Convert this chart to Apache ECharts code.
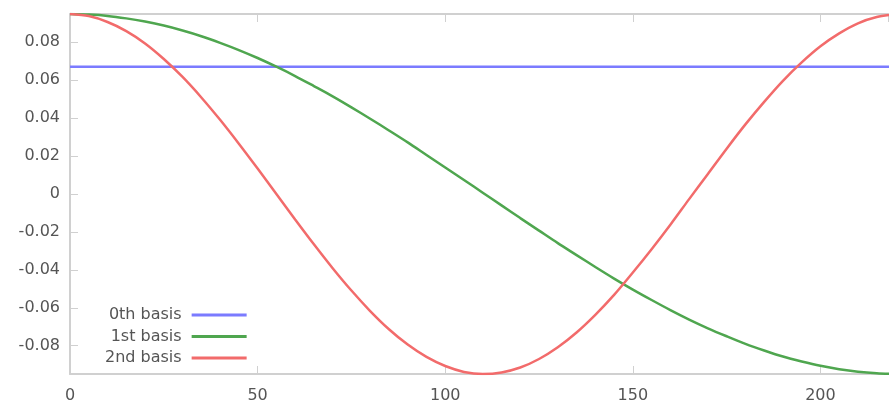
<!DOCTYPE html>
<html>
<head>
<meta charset="utf-8">
<script src="https://cdn.jsdelivr.net/npm/echarts@6/dist/echarts.min.js"></script>
<style>html,body{margin:0;padding:0;background:#fff;}#c{width:889px;height:404px;}</style>
</head>
<body>
<div id="c"></div>
<script>
const xValues = [0,5,10,15,20,25,30,35,40,45,50,55,60,65,70,75,80,85,90,95,100,105,110,115,120,125,130,135,140,145,150,155,160,165,170,175,180,185,190,195,200,205,210,215,220];
const basis0 = [0.0671,0.0671,0.0671,0.0671,0.0671,0.0671,0.0671,0.0671,0.0671,0.0671,0.0671,0.0671,0.0671,0.0671,0.0671,0.0671,0.0671,0.0671,0.0671,0.0671,0.0671,0.0671,0.0671,0.0671,0.0671,0.0671,0.0671,0.0671,0.0671,0.0671,0.0671,0.0671,0.0671,0.0671,0.0671,0.0671,0.0671,0.0671,0.0671,0.0671,0.0671,0.0671,0.0671,0.0671,0.0671];
const basis1 = [0.0949,0.0946,0.0939,0.0926,0.0909,0.0888,0.0862,0.0832,0.0797,0.0759,0.0717,0.0671,0.0622,0.0569,0.0515,0.0457,0.0397,0.0335,0.0272,0.0206,0.0140,0.0074,0.0007,-0.0060,-0.0127,-0.0193,-0.0259,-0.0322,-0.0385,-0.0446,-0.0504,-0.0559,-0.0612,-0.0662,-0.0708,-0.0750,-0.0790,-0.0825,-0.0857,-0.0883,-0.0906,-0.0924,-0.0937,-0.0945,-0.0949];
const basis2 = [0.0949,0.0938,0.0907,0.0859,0.0794,0.0712,0.0617,0.0509,0.0391,0.0265,0.0134,0.0000,-0.0134,-0.0265,-0.0391,-0.0509,-0.0617,-0.0713,-0.0794,-0.0859,-0.0907,-0.0938,-0.0949,-0.0941,-0.0915,-0.0870,-0.0808,-0.0730,-0.0637,-0.0532,-0.0414,-0.0291,-0.0162,-0.0027,0.0106,0.0239,0.0367,0.0486,0.0597,0.0694,0.0779,0.0847,0.0900,0.0933,0.0948];
const seriesNames = ['0th basis','1st basis','2nd basis'];
const xTicks = [0,50,100,150,200];

const chart = echarts.init(document.getElementById('c'), null, {renderer:'canvas'});
const pair = arr => xValues.map((x,i)=>[x, arr[i]]);
const colors = ['#7b7bff','#4fa64f','#f26b6b'];
const axisGray = '#d0d0d0';
const labelColor = '#555';
const font = 'DejaVu Sans';
chart.setOption({
  animation:false,
  backgroundColor:'#fff',
  grid:{left:70, right:1, top:14, bottom:29, containLabel:false},
  legend:{
    orient:'vertical', left:100, top:302, align:'right',
    itemWidth:55, itemHeight:3, itemGap:5.5,
    icon:'rect',
    textStyle:{color:labelColor, fontFamily:font, fontSize:16, padding:[0,5,0,0]},
    data:seriesNames
  },
  xAxis:[{
    type:'value', min:0, max:218, interval:50, position:'bottom',
    axisLine:{show:true, onZero:false, lineStyle:{color:axisGray, width:2}},
    axisTick:{show:true, inside:true, length:8, lineStyle:{color:axisGray}},
    axisLabel:{color:labelColor, fontFamily:font, fontSize:16, margin:14, showMaxLabel:false,
      formatter:v=> xTicks.indexOf(v)>=0 ? String(v) : ''},
    splitLine:{show:false}
  },{
    type:'value', min:0, max:218, interval:50, position:'top',
    axisLine:{show:true, onZero:false, lineStyle:{color:axisGray, width:2}},
    axisTick:{show:true, inside:true, length:8, lineStyle:{color:axisGray}},
    axisLabel:{show:false}, splitLine:{show:false}
  }],
  yAxis:{
    type:'value', min:-0.0949, max:0.0949, splitNumber:10,
    axisLine:{show:true, onZero:false, lineStyle:{color:axisGray, width:2}},
    axisTick:{show:true, inside:true, length:8, lineStyle:{color:axisGray}},
    axisLabel:{color:labelColor, fontFamily:font, fontSize:16, margin:10, showMinLabel:false, showMaxLabel:false,
      formatter:v=> Math.abs(v)<1e-9 ? '0' : v.toFixed(2)},
    splitLine:{show:false}
  },
  series:[
    {name:seriesNames[0], type:'line', data:pair(basis0), showSymbol:false, lineStyle:{width:2.5,color:colors[0]}, itemStyle:{color:colors[0]}},
    {name:seriesNames[1], type:'line', data:pair(basis1), smooth:0.3, showSymbol:false, lineStyle:{width:2.5,color:colors[1]}, itemStyle:{color:colors[1]}},
    {name:seriesNames[2], type:'line', data:pair(basis2), smooth:0.3, showSymbol:false, lineStyle:{width:2.5,color:colors[2]}, itemStyle:{color:colors[2]}}
  ]
});
</script>
</body>
</html>
